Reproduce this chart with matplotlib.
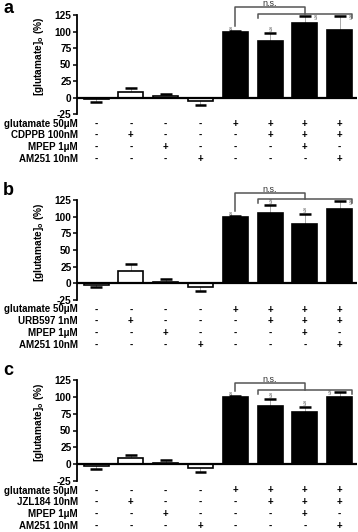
import matplotlib
matplotlib.use("Agg")
import matplotlib.pyplot as plt
import numpy as np

plt.rcParams['font.family'] = ['Liberation Sans', 'DejaVu Sans']

# ---------------- data ----------------
panel_letters = ["a", "b", "c"]
drug_names = ["CDPPB 100nM", "URB597 1nM", "JZL184 10nM"]
row_names_fixed = ["glutamate 50\u03bcM", "MPEP 1\u03bcM", "AM251 10nM"]

glutamate_row = ["-", "-", "-", "-", "+", "+", "+", "+"]
drug_row      = ["-", "+", "-", "-", "-", "+", "+", "+"]
mpep_row      = ["-", "-", "+", "-", "-", "-", "+", "-"]
am251_row     = ["-", "-", "-", "+", "-", "-", "-", "+"]

means_a = [-3, 8, 2, -5, 100, 85, 113, 103]
errs_a  = [4, 7, 3, 6, 0.5, 13, 10, 20]
means_b = [-3, 19, 2, -5, 100, 106, 89, 111]
errs_b  = [3, 10, 4, 6, 0.5, 12, 15, 12]
means_c = [-3, 9, 2, -5, 100, 86, 78, 100]
errs_c  = [4, 5, 4, 6, 0.5, 11, 7, 7]

yticks = [-25, 0, 25, 50, 75, 100, 125]
ns_label = "n.s."

all_means = [means_a, means_b, means_c]
all_errs = [errs_a, errs_b, errs_c]
# bracket heights per panel (top bracket, lower bracket)
bracket_top = [137, 135, 120]
bracket_low = [127, 126, 110]

# ---------------- figure ----------------
W, H = 358, 532
fig = plt.figure(figsize=(W / 100, H / 100), dpi=100)

# axes rects in pixels: (top y of 125, bottom y of -25)
rects_px = [(15, 114), (200, 300), (380, 481)]
left_px, right_px = 77, 357

bold = dict(fontweight="bold")
fs = 7.3
fs_row = 7.0

for p in range(3):
    ytop, ybot = rects_px[p]
    ax = fig.add_axes([left_px / W, 1 - ybot / H, (right_px - left_px) / W, (ybot - ytop) / H])
    means = all_means[p]
    errs = all_errs[p]
    x = np.arange(len(means))
    colors = ["white"] * 4 + ["black"] * 4
    ax.bar(x, means, width=0.72, color=colors, edgecolor="black", linewidth=1.2, zorder=3)
    # error bars: gray stem, black cap
    for xi, m, e in zip(x, means, errs):
        end = m + e if m >= 0 else m - e
        ax.plot([xi, xi], [m, end], color="#aaaaaa", lw=0.7, zorder=2)
        ax.plot([xi - 0.17, xi + 0.17], [end, end], color="black", lw=1.8, zorder=4,
                solid_capstyle="butt")
    ax.axhline(0, color="black", lw=1.6, zorder=5)
    ax.set_xlim(-0.55, 7.5)
    ax.set_ylim(-25, 125)
    ax.set_yticks(yticks)
    ax.set_yticklabels([str(t) for t in yticks], fontsize=fs, fontweight="bold")
    ax.tick_params(axis="y", direction="out", length=3, width=1.1, pad=1)
    ax.set_xticks([])
    for s in ["top", "right", "bottom"]:
        ax.spines[s].set_visible(False)
    ax.spines["left"].set_linewidth(1.3)
    ax.patch.set_alpha(0)
    ax.set_ylabel("[glutamate]$_\\mathregular{o}$ (%)", fontsize=fs, fontweight="bold")
    ax.yaxis.set_label_coords(-0.11, 0.58)

    # panel letter
    fig.text(3 / W, 1 - max(0, ytop - 18) / H, panel_letters[p], fontsize=13,
             fontweight="bold", ha="left", va="top")

    # significance brackets
    bc = "#555555"
    t, l = bracket_top[p], bracket_low[p]
    ax.plot([4, 4, 6, 6], [means[4] + 8, t, t, l], color=bc, lw=1.1, clip_on=False)
    ax.plot([4.64, 4.64, 7.37, 7.37], [l - 6, l, l, l - 6], color=bc, lw=1.1, clip_on=False)
    ax.text(5.0, t + 1.5, ns_label, ha="center", va="baseline", fontsize=6.5,
            color="#333333", clip_on=False)
    # § markers
    sec = dict(fontsize=4.5, color="#555555", ha="center", va="bottom", clip_on=False)
    ax.text(3.85, means[4] + 1, "\u00a7", **sec)
    for i in [5, 6, 7]:
        top = means[i] + errs[i]
        if p == 0 and i in (6, 7) or p == 1 and i == 7:
            ax.text(i + 0.3, top - 4, "\u00a7", **sec)
        elif p == 2 and i == 7:
            ax.text(i - 0.3, top - 4, "\u00a7", **sec)
        else:
            ax.text(i, top + 2, "\u00a7", **sec)

    # treatment table
    rows = [(row_names_fixed[0], glutamate_row), (drug_names[p], drug_row),
            (row_names_fixed[1], mpep_row), (row_names_fixed[2], am251_row)]
    for r, (name, vals) in enumerate(rows):
        ypx = ybot + 9.5 + r * 11.7
        yfig = 1 - ypx / H
        fig.text((left_px + 1) / W, yfig, name, ha="right", va="center", fontsize=fs_row, **bold)
        for xi, v in zip(x, vals):
            xfig = (left_px + (xi + 0.55) / 8.05 * (right_px - left_px)) / W
            fig.text(xfig, yfig, v, ha="center", va="center", fontsize=fs_row, **bold)

fig.savefig("out.png", dpi=100)
